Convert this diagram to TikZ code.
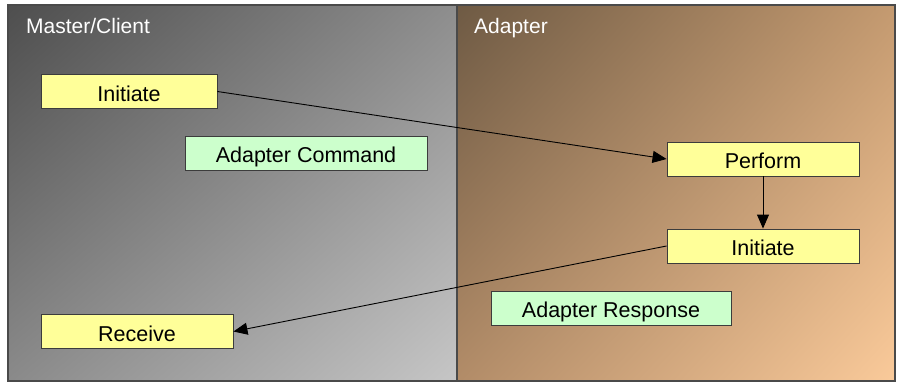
\documentclass[tikz,border=0pt]{standalone}
\usepackage{fontspec}
\setmainfont{Liberation Sans}
\usetikzlibrary{arrows.meta,shadings}
\definecolor{stepfill}{HTML}{FFFF99}
\definecolor{notefill}{HTML}{CCFFCC}
\definecolor{edgegray}{HTML}{3C3C3C}
\definecolor{framegray}{HTML}{4A4A4A}
\definecolor{grayTL}{RGB}{78,78,78}
\definecolor{grayTR}{RGB}{142,142,142}
\definecolor{grayBL}{RGB}{138,138,138}
\definecolor{grayBR}{RGB}{198,198,198}
\definecolor{tanTL}{RGB}{110,90,68}
\definecolor{tanTR}{RGB}{196,154,112}
\definecolor{tanBL}{RGB}{178,140,104}
\definecolor{tanBR}{RGB}{250,202,154}
\tikzset{
  boxtext/.style={inner sep=0pt, text height=19pt, text depth=0pt,
    font=\fontsize{21.5}{24}\selectfont},
  stepbox/.style={boxtext, draw=edgegray, line width=0.9pt, fill=stepfill, minimum height=34pt},
  notebox/.style={boxtext, draw=edgegray, line width=0.9pt, fill=notefill, minimum height=34pt},
  lanetitle/.style={anchor=base west, text=white, inner sep=0pt, font=\fontsize{21}{24}\selectfont},
  flow/.style={draw=black, line width=0.9pt, -{Triangle[length=14pt,width=12pt]}}
}
\begin{document}
\begin{tikzpicture}[x=1pt,y=-1pt]
  \useasboundingbox (0,0) rectangle (898,383);
  \fill[white] (0,0) rectangle (898,383);
  % swimlane backgrounds
  \shade[upper left=grayTL, upper right=grayTR, lower left=grayBL, lower right=grayBR]
    (8,5) rectangle (457,381);
  \shade[upper left=tanTL, upper right=tanTR, lower left=tanBL, lower right=tanBR]
    (457,5) rectangle (895,381);
  \draw[framegray, line width=1.3pt] (8,5) rectangle (895,381);
  \draw[framegray, line width=1.3pt] (457,5) -- (457,381);
  % lane titles
  \node[lanetitle] (lmaster) at (26,33) {Master/Client};
  \node[lanetitle] (ladapter) at (474,33) {Adapter};
  % steps
  \node[stepbox, minimum width=176pt] (init1) at (129,91.5) {Initiate};
  \node[notebox, minimum width=242pt] (cmd) at (306,153) {Adapter Command};
  \node[stepbox, minimum width=192pt] (perform) at (763,159) {Perform};
  \node[stepbox, minimum width=192pt] (init2) at (763,246) {Initiate};
  \node[notebox, minimum width=240pt] (resp) at (611,308) {Adapter Response};
  \node[stepbox, minimum width=192pt] (recv) at (137,331.5) {Receive};
  % connectors
  \draw[flow] (init1.east) -- (perform.west);
  \draw[flow] (perform.south) -- (init2.north);
  \draw[flow] (init2.west) -- (recv.east);
\end{tikzpicture}
\end{document}
